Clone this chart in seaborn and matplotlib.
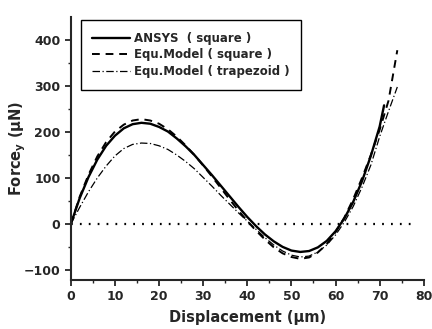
import numpy as np
import pandas as pd
import seaborn as sns
import matplotlib.pyplot as plt

# Data (displacement in um, force in uN)
disp = [0, 2, 4, 6, 8, 10, 12, 14, 16, 18, 20, 22, 24, 26, 28, 30, 32, 34, 36,
        38, 40, 42, 44, 46, 48, 50, 52, 54, 56, 58, 60, 62, 64, 66, 68, 70]
ansys_sq = [0, 56, 102, 140, 170, 192, 208, 217, 220, 218, 211, 201, 186, 169, 150,
            128, 106, 83, 60, 37, 15, -5, -23, -38, -50, -58, -61, -59, -51, -37,
            -16, 12, 48, 93, 148, 212]
equ_sq = [0, 59, 107, 147, 178, 201, 216, 225, 228, 225, 218, 206, 190, 171, 150,
          127, 103, 78, 53, 29, 6, -15, -34, -51, -64, -72, -76, -73, -62, -44,
          -18, 14, 54, 100, 150, 205]
equ_trap = [0, 36, 70, 100, 126, 148, 164, 173, 176, 175, 170, 162, 150, 136, 120,
            101, 82, 62, 43, 24, 6, -12, -30, -46, -59, -68, -72, -70, -61, -46,
            -24, 4, 38, 80, 128, 190]
# tail end of each curve beyond x=70
ansys_tail_x, ansys_tail_y = [71], [258]
equ_sq_tail_x, equ_sq_tail_y = [72, 74], [268, 378]
equ_trap_tail_x, equ_trap_tail_y = [72, 74], [245, 298]
zero_x = [0, 78]
zero_y = [0, 0]

sns.set_style("ticks")
plt.rcParams['font.family'] = ['DejaVu Sans']
plt.rcParams['font.weight'] = 'bold'

fig = plt.figure(figsize=(4.32, 3.29), dpi=100)
ax = fig.add_axes([0.164, 0.149, 0.817, 0.799])

df_a = pd.DataFrame({'x': disp + ansys_tail_x, 'y': ansys_sq + ansys_tail_y})
df_s = pd.DataFrame({'x': disp + equ_sq_tail_x, 'y': equ_sq + equ_sq_tail_y})
df_t = pd.DataFrame({'x': disp + equ_trap_tail_x, 'y': equ_trap + equ_trap_tail_y})

sns.lineplot(data=pd.DataFrame({'x': zero_x, 'y': zero_y}), x='x', y='y', ax=ax,
             color='black', lw=1.6, linestyle=(0, (0.8, 3.2)))
sns.lineplot(data=df_a, x='x', y='y', ax=ax, color='black', lw=1.7,
             label='ANSYS  ( square )', sort=False)
sns.lineplot(data=df_s, x='x', y='y', ax=ax, color='black', lw=1.4,
             linestyle=(0, (4, 3)), label='Equ.Model ( square )', sort=False)
sns.lineplot(data=df_t, x='x', y='y', ax=ax, color='black', lw=0.9,
             linestyle=(0, (6, 2, 1, 2)), label='Equ.Model ( trapezoid )', sort=False)

ax.set_xlim(0, 80)
ax.set_ylim(-122, 450)
ax.set_xticks(np.arange(0, 81, 10))
ax.set_yticks([-100, 0, 100, 200, 300, 400])
ax.set_xticks(np.arange(5, 80, 10), minor=True)
ax.set_yticks(np.arange(-50, 450, 100), minor=True)
ax.tick_params(which='major', direction='out', length=4, width=1.3, labelsize=9)
ax.tick_params(which='minor', direction='out', length=2, width=1.0)
for lab in ax.get_xticklabels() + ax.get_yticklabels():
    lab.set_fontweight('bold')
for s in ['left', 'bottom']:
    ax.spines[s].set_linewidth(1.5)
ax.spines['top'].set_visible(False)
ax.spines['right'].set_visible(False)

ax.set_xlabel('Displacement (\u03bcm)', fontsize=10.5, fontweight='bold', labelpad=5)
ax.set_ylabel('Force$_\\mathbf{y}$ (\u03bcN)', fontsize=10.5, fontweight='bold')
ax.yaxis.set_label_coords(-0.122, 0.5)

leg = ax.legend(loc='upper left', bbox_to_anchor=(0.011, 1.011), frameon=True, fancybox=False,
                edgecolor='black', framealpha=1, handlelength=3.2, handletextpad=0.3,
                borderpad=1.0, labelspacing=0.3, prop={'weight': 'bold', 'size': 8.5})
leg.get_frame().set_linewidth(1.0)

fig.savefig('out.png', dpi=100)
